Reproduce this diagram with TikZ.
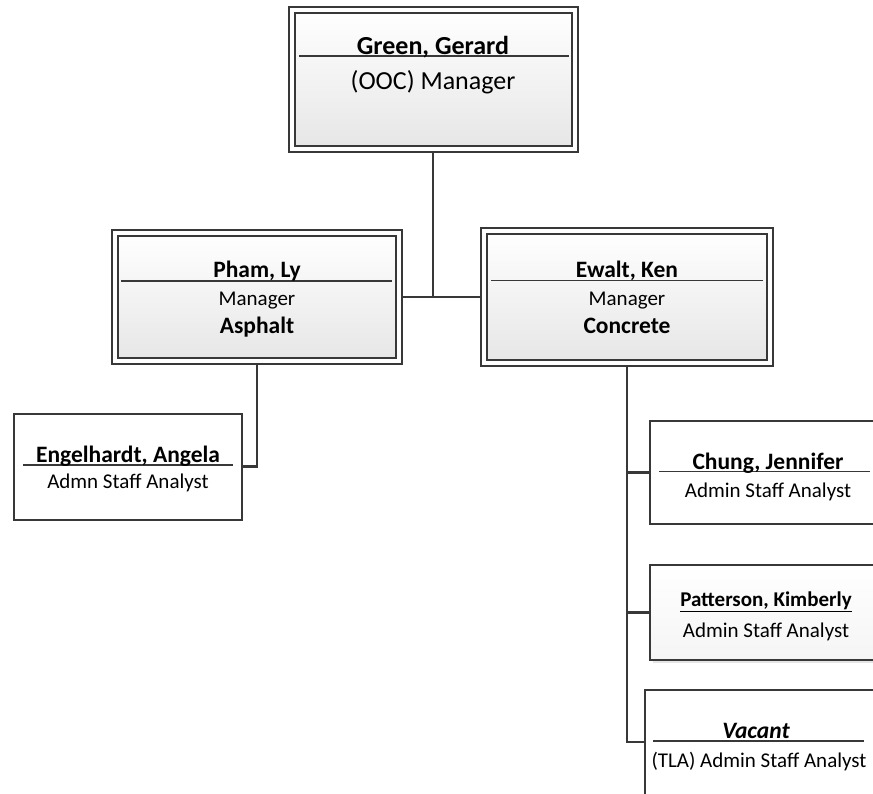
\documentclass[tikz,border=0pt]{standalone}
\usepackage{fontspec}
\setmainfont{Carlito}
\usetikzlibrary{shadows}
\definecolor{edge}{HTML}{383838}
\definecolor{shade}{HTML}{E6E6E6}
\tikzset{
  mgrbox/.style={rectangle, draw=edge, line width=2pt, double=white, double distance=4pt,
    top color=white, bottom color=shade, inner sep=0pt, outer sep=4pt,
    drop shadow={shadow xshift=2.5pt, shadow yshift=-2.5pt, fill=black!12, opacity=1}},
  staffbox/.style={rectangle, draw=edge, line width=2pt, fill=white, inner sep=0pt, outer sep=1pt},
  shadedstaff/.style={staffbox, top color=white, bottom color=black!4,
    drop shadow={shadow xshift=2.5pt, shadow yshift=-2.5pt, fill=black!10, opacity=1}},
  conn/.style={draw=edge, line width=2.4pt},
  rule/.style={draw=edge, line width=1.5pt},
  txt/.style={anchor=base, inner sep=0pt, text=black},
  bigname/.style={txt, font=\fontsize{26}{30}\selectfont\bfseries},
  bigrole/.style={txt, font=\fontsize{26}{30}\selectfont},
  nm/.style={txt, font=\fontsize{23.5}{28}\selectfont\bfseries},
  role/.style={txt, font=\fontsize{21}{25}\selectfont},
}
\begin{document}
\begin{tikzpicture}[x=1pt, y=-1pt]
\useasboundingbox (0,0) rectangle (873,793);
\clip (0,0) rectangle (873,793);
% boxes
\node[mgrbox, minimum width=283.5pt, minimum height=139pt] (green) at (433.25,79.5) {};
\node[mgrbox, minimum width=284.5pt, minimum height=128pt] (pham) at (256.75,297) {};
\node[mgrbox, minimum width=285.5pt, minimum height=132pt] (ewalt) at (626.75,297) {};
\node[staffbox, minimum width=228pt, minimum height=106pt] (engel) at (128,466.5) {};
\node[staffbox, minimum width=250pt, minimum height=103pt] (chung) at (775,472.5) {};
\node[shadedstaff, minimum width=250pt, minimum height=95pt] (patt) at (775,612.5) {};
\node[staffbox, minimum width=255pt, minimum height=110pt] (vacant) at (772.5,745) {};
% rules under names
\draw[rule] (299,56) -- (569,56);
\draw[rule] (121,281) -- (392,281);
\draw[rule] (491,280.5) -- (763,280.5);
\draw[rule] (23,465) -- (233,465);
\draw[rule] (659,471.5) -- (870,471.5);
\draw[rule] (653,741) -- (864,741);
% texts
\node[bigname] (greenN) at (433,54.5) {Green, Gerard};
\node[bigrole] (greenR) at (433,89) {(OOC) Manager};
\node[nm] (phamN) at (257,277) {Pham, Ly};
\node[role] (phamR) at (257,305.5) {Manager};
\node[nm] (phamD) at (257,333) {Asphalt};
\node[nm] (ewaltN) at (627,277) {Ewalt, Ken};
\node[role] (ewaltR) at (627,305.5) {Manager};
\node[nm] (ewaltD) at (627,333) {Concrete};
\node[nm] (engelN) at (128,462) {Engelhardt, Angela};
\node[role] (engelR) at (128,488) {Admn Staff Analyst};
\node[nm] (chungN) at (768,469) {Chung, Jennifer};
\node[role] (chungR) at (768,497) {Admin Staff Analyst};
\node[txt, font=\fontsize{21}{25}\selectfont\bfseries] (pattN) at (766,606) {\underline{Patterson, Kimberly}};
\node[role] (pattR) at (766,637) {Admin Staff Analyst};
\node[nm, font=\fontsize{23.5}{28}\selectfont\bfseries\itshape] (vacN) at (756,738) {Vacant};
\node[role] (vacR) at (759,767) {(TLA) Admin Staff Analyst};
% connectors
\draw[conn] (green.south) -- (green.south |- pham.east);
\draw[conn] (pham.east) -- (ewalt.west);
\draw[conn] (pham.south) |- (engel.east);
\draw[conn] (ewalt.south) |- ([yshift=3pt]vacant.west);
\draw[conn] (ewalt.south |- chung.west) -- (chung.west);
\draw[conn] (ewalt.south |- patt.west) -- (patt.west);
\end{tikzpicture}
\end{document}
